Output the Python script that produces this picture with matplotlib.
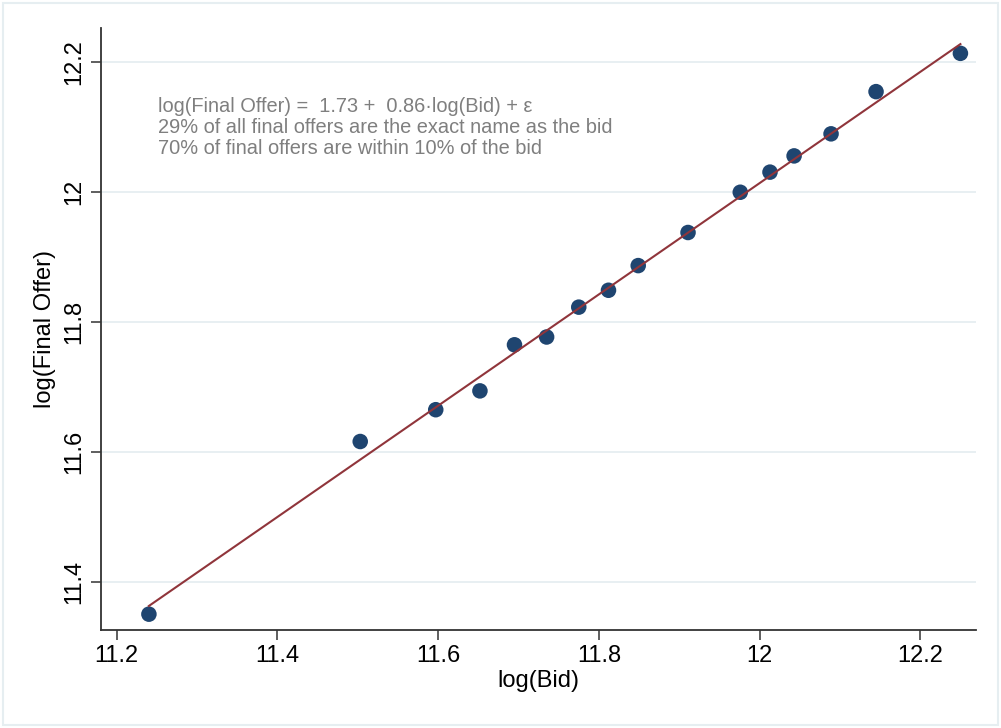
import matplotlib
matplotlib.use("Agg")
import matplotlib.pyplot as plt
from matplotlib.patches import Rectangle

plt.rcParams['font.family'] = ['Liberation Sans', 'DejaVu Sans']

# binned means of log(bid) and log(final offer)
log_bid = [11.240, 11.503, 11.597, 11.652, 11.695, 11.735, 11.775, 11.812,
           11.849, 11.911, 11.976, 12.013, 12.043, 12.089, 12.145, 12.250]
log_offer = [11.350, 11.616, 11.665, 11.694, 11.765, 11.777, 11.823, 11.849,
             11.887, 11.938, 12.000, 12.031, 12.056, 12.090, 12.155, 12.214]

# linear fit
intercept = 1.73
slope = 0.857

share_exact = 29
share_within = 70

x_ticks = [11.2, 11.4, 11.6, 11.8, 12.0, 12.2]
x_tick_labels = ["11.2", "11.4", "11.6", "11.8", "12", "12.2"]
y_ticks = [11.4, 11.6, 11.8, 12.0, 12.2]
y_tick_labels = ["11.4", "11.6", "11.8", "12", "12.2"]

navy = "#1f4570"
maroon = "#90353b"
grid_col = "#e8eff2"

fig = plt.figure(figsize=(10.01, 7.28), dpi=100)
ax = fig.add_axes([0.1006, 0.1346, 0.8741, 0.8269])

for yt in y_ticks:
    ax.axhline(yt, color=grid_col, lw=1.4, zorder=0)

fit_x = [min(log_bid), max(log_bid)]
fit_y = [intercept + slope * v for v in fit_x]
ax.plot(fit_x, fit_y, color=maroon, lw=1.5, zorder=3)
ax.scatter(log_bid, log_offer, s=125, color=navy, edgecolors="none", zorder=2)

ax.set_xlim(11.180, 12.269)
ax.set_ylim(11.3256, 12.253)

ax.set_xticks(x_ticks)
ax.set_xticklabels(x_tick_labels, fontsize=17)
ax.set_yticks(y_ticks)
ax.set_yticklabels(y_tick_labels, fontsize=17, rotation=90, va="center")
ax.tick_params(axis="both", length=7, width=1.1, color="#333333", pad=4)

for side in ["top", "right"]:
    ax.spines[side].set_visible(False)
for side in ["left", "bottom"]:
    ax.spines[side].set_color("#333333")
    ax.spines[side].set_linewidth(1.3)

ax.set_xlabel("log(Bid)", fontsize=17, labelpad=2)
ax.set_ylabel("log(Final Offer)", fontsize=17, labelpad=5)

note = (f"log(Final Offer) =  {intercept:.2f} +  {slope:.2f}\u00b7log(Bid) + \u03b5\n"
        f"{share_exact}% of all final offers are the exact name as the bid\n"
        f"{share_within}% of final offers are within 10% of the bid")
ax.text(0.0655, 0.886, note, transform=ax.transAxes, fontsize=14.4,
        color="#7f7f7f", va="top", ha="left", linespacing=1.14)

# light frame around the whole graph
fig.patches.append(Rectangle((0.003, 0.004), 0.994, 0.992, transform=fig.transFigure,
                             fill=False, edgecolor="#e6eef1", lw=1.5))

fig.savefig("out.png", dpi=100)
